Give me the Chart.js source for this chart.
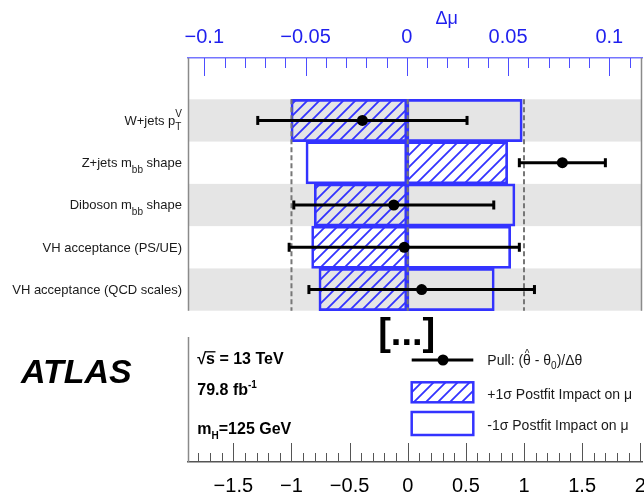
<!DOCTYPE html>
<html>
<head>
<meta charset="utf-8">
<script src="https://cdn.jsdelivr.net/npm/chart.js@4/dist/chart.umd.min.js"></script>
<style>
html,body{margin:0;padding:0;background:#fff;overflow:hidden}
canvas{display:block}
</style>
</head>
<body>
<canvas id="c" width="644" height="495"></canvas>
<script>
// ---------------- data ----------------
const categories = ['W+jets p_{T}^{V}', 'Z+jets m_{bb} shape', 'Diboson m_{bb} shape', 'VH acceptance (PS/UE)', 'VH acceptance (QCD scales)'];
const impactUp = [-0.0572, 0.0498, -0.0457, -0.0470, -0.0434];   // +1σ postfit impact on μ
const impactDown = [0.0570, -0.0498, 0.0534, 0.0513, 0.0432];   // -1σ postfit impact on μ
const pulls = [-0.39, 1.33, -0.12, -0.03, 0.12];
const pullErrors = [0.90, 0.37, 0.86, 0.99, 0.97];
const impactTicks = [-0.1, -0.05, 0, 0.05, 0.1];
const pullTicks = [-1.5, -1, -0.5, 0, 0.5, 1, 1.5, 2];
const pullGuides = [-1, 0, 1];
const legendLabels = ['Pull: (θ̂ - θ_{0})/Δθ', '+1σ Postfit Impact on μ', '-1σ Postfit Impact on μ'];
const infoLabels = ['√s = 13 TeV', '79.8 fb^{-1}', 'm_{H}=125 GeV'];

// ---------------- style ----------------
const FONT = '"Liberation Sans", Arial, Helvetica, sans-serif';
const BLUE = '#3333ff';
Chart.defaults.font.family = FONT;

const cv = document.getElementById('c');
const mainCtx = cv.getContext('2d');
function makeHatch(color) {
  const s = 12;
  const t = document.createElement('canvas');
  t.width = s; t.height = s;
  const g = t.getContext('2d');
  g.strokeStyle = color; g.lineWidth = 1.8;
  g.beginPath();
  g.moveTo(0, s); g.lineTo(s, 0);
  g.moveTo(-s / 2, s / 2); g.lineTo(s / 2, -s / 2);
  g.moveTo(s / 2, s * 1.5); g.lineTo(s * 1.5, s / 2);
  g.stroke();
  return mainCtx.createPattern(t, 'repeat');
}
const hatch = makeHatch(BLUE);

function fmt(v) {
  const r = Math.round(v * 1000) / 1000;
  const s = String(Math.abs(r));
  return r < 0 ? '\u2212' + s : s;
}

function parseRich(str) {
  const segs = [];
  const re = /_\{([^}]*)\}\^\{([^}]*)\}|_\{([^}]*)\}|\^\{([^}]*)\}/g;
  let last = 0, m;
  while ((m = re.exec(str))) {
    if (m.index > last) segs.push({ t: str.slice(last, m.index) });
    if (m[1] !== undefined) segs.push({ sub: m[1], sup: m[2] });
    else if (m[3] !== undefined) segs.push({ sub: m[3] });
    else segs.push({ sup: m[4] });
    last = re.lastIndex;
  }
  if (last < str.length) segs.push({ t: str.slice(last) });
  return segs;
}
function drawRich(ctx, str, x, y, o) {
  const segs = parseRich(str);
  const main = `${o.weight || ''} ${o.size}px ${FONT}`;
  const small = `${o.weight || ''} ${o.subSize}px ${FONT}`;
  const widths = segs.map(s => {
    if (s.t !== undefined) { ctx.font = main; return ctx.measureText(s.t).width; }
    ctx.font = small;
    return Math.max(s.sub ? ctx.measureText(s.sub).width : 0, s.sup ? ctx.measureText(s.sup).width : 0);
  });
  const total = widths.reduce((a, b) => a + b, 0);
  let cx = o.align === 'right' ? x - total : x;
  ctx.textAlign = 'left'; ctx.textBaseline = 'alphabetic';
  segs.forEach((s, i) => {
    if (s.t !== undefined) { ctx.font = main; ctx.fillText(s.t, cx, y); }
    else {
      ctx.font = small;
      if (s.sub) ctx.fillText(s.sub, cx, y + o.subDy);
      if (s.sup) ctx.fillText(s.sup, cx, y + o.supDy);
    }
    cx += widths[i];
  });
  return cx;
}

function drawInnerTicks(ctx, scale, step, majors, yAxis, dir, majorLen, minorLen, color) {
  const k0 = Math.ceil(scale.min / step - 1e-9), k1 = Math.floor(scale.max / step + 1e-9);
  ctx.save();
  ctx.strokeStyle = color; ctx.lineWidth = 1;
  ctx.beginPath();
  for (let k = k0; k <= k1; k++) {
    const v = k * step;
    const isMajor = majors.some(m => Math.abs(m - v) < step / 2);
    const x = Math.round(scale.getPixelForValue(v)) + 0.5;
    ctx.moveTo(x, yAxis);
    ctx.lineTo(x, yAxis + dir * (isMajor ? majorLen : minorLen));
  }
  ctx.stroke();
  ctx.restore();
}

const decor = {
  id: 'decor',
  beforeDatasetsDraw(chart) {
    const { ctx, chartArea: a, scales: { y } } = chart;
    ctx.save();
    ctx.fillStyle = '#e5e5e5';
    categories.forEach((c, i) => {
      if (i % 2 === 0) {
        const t = y.getPixelForValue(i - 0.5), b = y.getPixelForValue(i + 0.5);
        ctx.fillRect(a.left, t, a.right - a.left, b - t);
      }
    });
    ctx.restore();
  },
  afterDatasetDraw(chart, args) {
    if (args.index !== 1) return;
    const { ctx, scales: { y, xBot } } = chart;
    const top = y.getPixelForValue(-0.5), bot = y.getPixelForValue(categories.length - 0.5);
    ctx.save();
    // dashed guides at pull -1, 0, +1
    ctx.strokeStyle = '#777777'; ctx.lineWidth = 2; ctx.setLineDash([5, 3]);
    pullGuides.forEach(g => {
      const x = xBot.getPixelForValue(g);
      ctx.beginPath(); ctx.moveTo(x, top); ctx.lineTo(x, bot); ctx.stroke();
    });
    ctx.setLineDash([]);
    // pull error bars
    ctx.strokeStyle = '#000'; ctx.fillStyle = '#000'; ctx.lineWidth = 3;
    pulls.forEach((p, i) => {
      const yy = y.getPixelForValue(i);
      const x0 = xBot.getPixelForValue(p - pullErrors[i]);
      const x1 = xBot.getPixelForValue(p + pullErrors[i]);
      ctx.beginPath(); ctx.moveTo(x0, yy); ctx.lineTo(x1, yy); ctx.stroke();
      ctx.fillRect(x0 - 1.5, yy - 4.5, 3, 9);
      ctx.fillRect(x1 - 1.5, yy - 4.5, 3, 9);
    });
    ctx.restore();
  },
  afterDraw(chart) {
    const { ctx, chartArea: a, scales: { y, xTop, xBot } } = chart;
    ctx.save();
    // inner ticks
    drawInnerTicks(ctx, xTop, 0.01, impactTicks, a.top, 1, 18, 10, '#4d4dff');
    drawInnerTicks(ctx, xBot, 0.1, pullTicks, a.bottom, -1, 19, 9, '#555555');
    // frame lines
    const rowBottom = y.getPixelForValue(categories.length - 0.5);
    ctx.strokeStyle = '#8a8a8a'; ctx.lineWidth = 1.5;
    ctx.beginPath();
    ctx.moveTo(a.left + 0.5, a.top); ctx.lineTo(a.left + 0.5, rowBottom);
    ctx.moveTo(a.right - 0.5, a.top); ctx.lineTo(a.right - 0.5, rowBottom);
    ctx.moveTo(a.left + 0.5, 337); ctx.lineTo(a.left + 0.5, a.bottom);
    ctx.stroke();

    // category labels
    ctx.fillStyle = '#1a1a1a';
    categories.forEach((c, i) => {
      drawRich(ctx, c, a.left - 6, y.getPixelForValue(i) + 4.5,
        { size: 13, subSize: 10, subDy: 5.5, supDy: -8, align: 'right' });
    });

    // axis title
    ctx.fillStyle = '#1f1fee';
    ctx.font = `18px ${FONT}`; ctx.textAlign = 'center'; ctx.textBaseline = 'alphabetic';
    ctx.fillText('Δμ', 446.7, 24);

    // ATLAS
    ctx.fillStyle = '#000';
    ctx.font = `italic bold 34px ${FONT}`; ctx.textAlign = 'left';
    ctx.fillText('ATLAS', 21, 383);

    // [...]
    ctx.font = `bold 38px ${FONT}`; ctx.textAlign = 'center';
    ctx.fillText('[...]', 406.7, 345);

    // info text
    ctx.textAlign = 'left';
    const ix = 197.3;
    ctx.font = `bold 16px ${FONT}`;
    const rad = '√';
    ctx.fillText(rad, ix, 364.3);
    const wr = ctx.measureText(rad).width;
    ctx.fillText('s', ix + wr, 364.3);
    const ws = ctx.measureText('s').width;
    ctx.lineWidth = 1.3; ctx.strokeStyle = '#000';
    ctx.beginPath(); ctx.moveTo(ix + wr - 1, 351.8); ctx.lineTo(ix + wr + ws + 0.5, 351.8); ctx.stroke();
    ctx.fillText(infoLabels[0].slice(2), ix + wr + ws, 364.3);
    drawRich(ctx, infoLabels[1], ix, 395, { weight: 'bold', size: 16, subSize: 10, subDy: 5, supDy: -7 });
    drawRich(ctx, infoLabels[2], ix, 434.3, { weight: 'bold', size: 16, subSize: 10, subDy: 5, supDy: -7 });

    // legend
    const lx0 = 411.7, lx1 = 473.3, tx = 487.3;
    ctx.strokeStyle = '#000'; ctx.lineWidth = 3;
    ctx.beginPath(); ctx.moveTo(lx0, 360); ctx.lineTo(lx1, 360); ctx.stroke();
    ctx.fillStyle = '#000';
    ctx.beginPath(); ctx.arc((lx0 + lx1) / 2 + 0.5, 360, 5.5, 0, Math.PI * 2); ctx.fill();
    ctx.fillStyle = '#1a1a1a';
    const pl = legendLabels[0];
    const hatIdx = pl.indexOf('\u0302');
    const pre = pl.slice(0, hatIdx);
    const rest = pl.slice(hatIdx + 1);
    ctx.font = `14px ${FONT}`; ctx.textAlign = 'left';
    ctx.fillText(pre, tx, 365);
    const wpre = ctx.measureText(pre).width;
    const wth = ctx.measureText('θ').width;
    ctx.font = `10px ${FONT}`; ctx.textAlign = 'center';
    ctx.fillText('^', tx + wpre - wth / 2, 357);
    drawRich(ctx, rest, tx + wpre, 365, { size: 14, subSize: 10, subDy: 4, supDy: -6 });

    ctx.fillStyle = hatch;
    ctx.fillRect(lx0, 382.3, lx1 - lx0, 20);
    ctx.strokeStyle = BLUE; ctx.lineWidth = 2.5;
    ctx.strokeRect(lx0, 382.3, lx1 - lx0, 20);
    ctx.strokeRect(lx0, 412, lx1 - lx0, 23);
    ctx.fillStyle = '#1a1a1a';
    ctx.font = `14px ${FONT}`; ctx.textAlign = 'left';
    ctx.fillText(legendLabels[1], tx, 398.5);
    ctx.fillText(legendLabels[2], tx, 429.5);
    ctx.restore();
  }
};

const noPad = s => { s.paddingLeft = 0; s.paddingRight = 0; s.paddingTop = 0; s.paddingBottom = 0; };

new Chart(cv, {
  type: 'bar',
  data: {
    datasets: [
      {
        label: '+1σ Postfit Impact on μ',
        data: impactUp.map((v, i) => ({ x: [0, v], y: i })),
        xAxisID: 'xTop', yAxisID: 'y',
        backgroundColor: hatch, borderColor: BLUE, borderWidth: 2,
        borderSkipped: false, grouped: false, barPercentage: 1, categoryPercentage: 1,
        order: 3
      },
      {
        label: '-1σ Postfit Impact on μ',
        data: impactDown.map((v, i) => ({ x: [0, v], y: i })),
        xAxisID: 'xTop', yAxisID: 'y',
        backgroundColor: 'rgba(0,0,0,0)', borderColor: BLUE, borderWidth: 2,
        borderSkipped: false, grouped: false, barPercentage: 1, categoryPercentage: 1,
        order: 2
      },
      {
        type: 'scatter',
        label: 'Pull',
        data: pulls.map((p, i) => ({ x: p, y: i })),
        xAxisID: 'xBot', yAxisID: 'y',
        pointRadius: 5.5, pointBackgroundColor: '#000', pointBorderWidth: 0,
        order: 1
      }
    ]
  },
  options: {
    responsive: false, animation: false, events: [], indexAxis: 'y',
    layout: { autoPadding: false, padding: { left: 188, right: 2, top: 0, bottom: 0 } },
    plugins: { legend: { display: false }, tooltip: { enabled: false } },
    scales: {
      y: {
        type: 'linear', display: false, reverse: true, offset: false, min: -1.477, max: 8.079,
        afterBuildTicks: s => { s.ticks = categories.map((c, i) => ({ value: i })); }
      },
      xTop: {
        type: 'linear', position: 'top', min: -0.10805, max: 0.11615, offset: false,
        grid: { display: false, drawTicks: false },
        border: { display: true, color: '#7575ff', width: 1.5 },
        afterBuildTicks: s => { s.ticks = impactTicks.map(v => ({ value: v })); },
        ticks: { autoSkip: false, maxRotation: 0, padding: 9, color: '#1f1fee', font: { size: 20 }, callback: v => fmt(v) },
        afterFit: s => { s.height = 58; noPad(s); }
      },
      xBot: {
        type: 'linear', position: 'bottom', min: -1.89, max: 2.015, offset: false,
        grid: { display: false, drawTicks: false },
        border: { display: true, color: '#555555', width: 1.5 },
        afterBuildTicks: s => { s.ticks = pullTicks.map(v => ({ value: v })); },
        ticks: { autoSkip: false, maxRotation: 0, padding: 12, color: '#000', font: { size: 20 }, callback: v => fmt(v) },
        afterFit: s => { s.height = 33; noPad(s); }
      }
    }
  },
  plugins: [decor]
});
</script>
</body>
</html>
